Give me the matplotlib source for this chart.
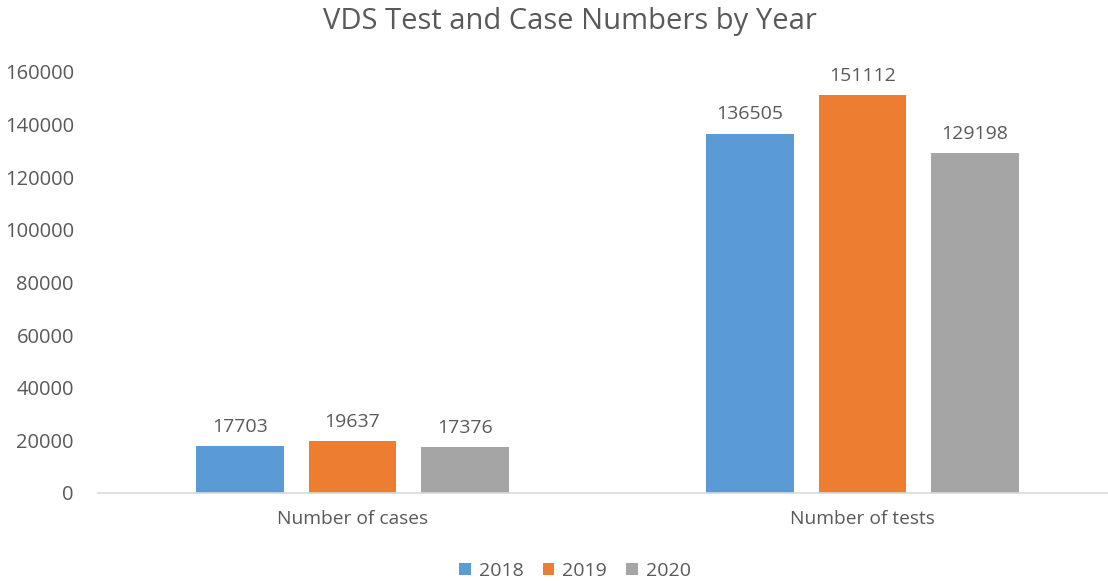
import matplotlib.pyplot as plt
import numpy as np

categories = ["Number of cases", "Number of tests"]
years = ["2018", "2019", "2020"]
values_2018 = [17703, 136505]
values_2019 = [19637, 151112]
values_2020 = [17376, 129198]
yticks = [0, 20000, 40000, 60000, 80000, 100000, 120000, 140000, 160000]

colors = ["#5B9BD5", "#ED7D31", "#A5A5A5"]
txt = "#595959"

plt.rcParams['font.family'] = ['Open Sans', 'DejaVu Sans']

fig = plt.figure(figsize=(11.08, 5.81), dpi=100)
# axes right edge runs past the figure, like the reference
ax = fig.add_axes([97.5 / 1108, 88 / 581, 1020 / 1108, 421 / 581])

x = np.arange(len(categories))
w = 0.1725
step = 0.2206
series = [values_2018, values_2019, values_2020]
for i, (vals, yr) in enumerate(zip(series, years)):
    bars = ax.bar(x + (i - 1) * step, vals, w, color=colors[i], label=yr)
    for b, v in zip(bars, vals):
        ax.text(b.get_x() + b.get_width() / 2, v + 4000, str(v),
                ha='center', va='bottom', fontsize=14, color=txt, clip_on=False)

ax.set_xlim(-0.5, 1.5)
ax.set_ylim(0, 160000)
ax.set_yticks(yticks)
ax.set_yticklabels([str(t) for t in yticks])
ax.set_xticks(x)
ax.set_xticklabels(categories)
ax.tick_params(axis='y', length=0, labelsize=14.5, labelcolor=txt, pad=17)
ax.tick_params(axis='x', length=0, labelsize=13.8, labelcolor=txt, pad=12)
for s in ['top', 'right', 'left']:
    ax.spines[s].set_visible(False)
ax.spines['bottom'].set_color('#D9D9D9')
ax.spines['bottom'].set_linewidth(1.2)

fig.text(570 / 1108, 1 - 22 / 581, "VDS Test and Case Numbers by Year",
         ha='center', va='center', fontsize=21, color=txt)

fig.legend(loc='center', bbox_to_anchor=(575 / 1108, 1 - 571 / 581), ncol=3,
           frameon=False, fontsize=14, labelcolor=txt, handlelength=0.6,
           handleheight=0.6, handletextpad=0.4, columnspacing=1.0)

fig.savefig("out.png", dpi=100)
